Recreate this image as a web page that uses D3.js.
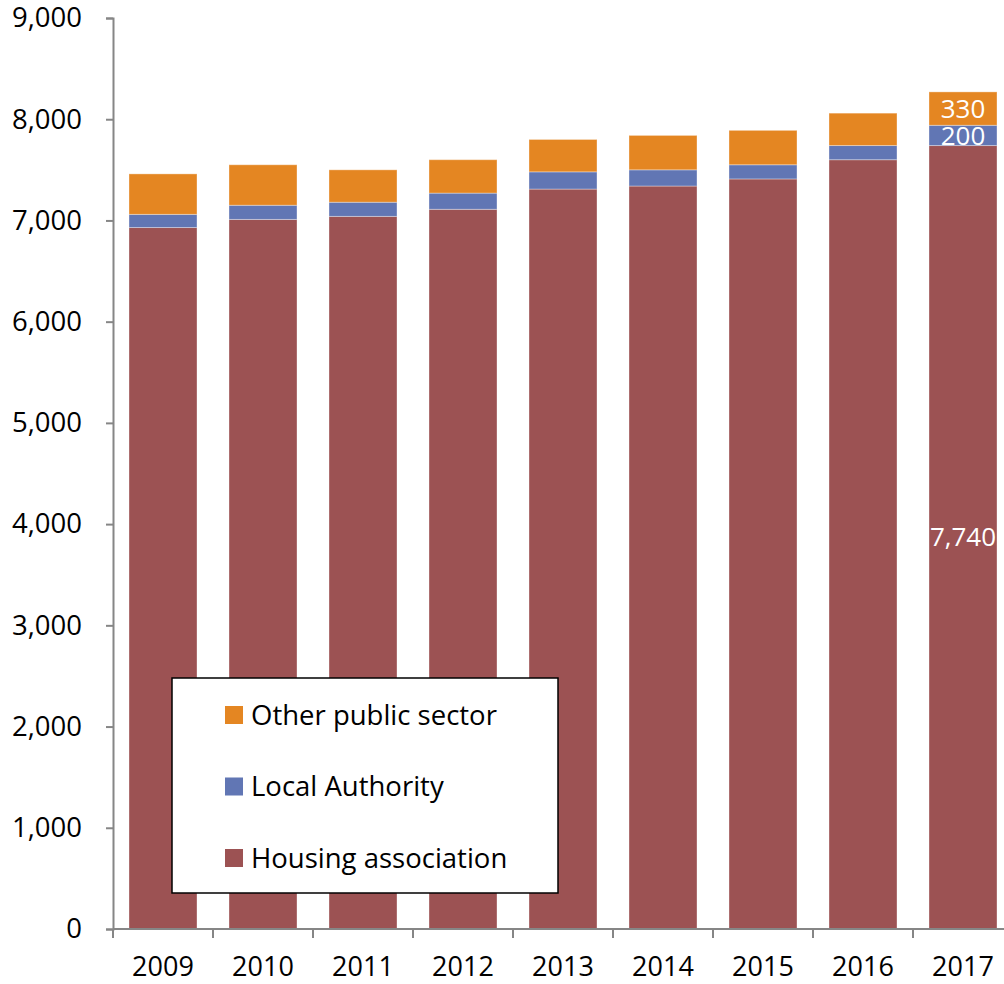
<!DOCTYPE html>
<html>
<head>
<meta charset="utf-8">
<script src="https://cdn.jsdelivr.net/npm/d3@7/dist/d3.min.js"></script>
<style>
  html, body { margin: 0; padding: 0; background: #fff; }
  svg { display: block; font-family: "Open Sans", "Lato", sans-serif; }
</style>
</head>
<body>
<svg id="chart" width="1004" height="984"></svg>
<script>
// Social housing stock by provider, 2009–2017
const years = ["2009", "2010", "2011", "2012", "2013", "2014", "2015", "2016", "2017"];
const housingAssociation = [6930, 7010, 7040, 7110, 7310, 7340, 7410, 7600, 7740];
const localAuthority     = [130, 140, 140, 160, 170, 160, 140, 140, 200];
const otherPublicSector  = [400, 400, 320, 330, 320, 340, 340, 320, 330];
const seriesNames = ["Housing association", "Local Authority", "Other public sector"];
const yTicks = [0, 1000, 2000, 3000, 4000, 5000, 6000, 7000, 8000, 9000];

const colors = {
  "Housing association": "#9c5253",
  "Local Authority": "#6176b4",
  "Other public sector": "#e48622"
};

const rows = years.map((y, i) => ({
  year: y,
  "Housing association": housingAssociation[i],
  "Local Authority": localAuthority[i],
  "Other public sector": otherPublicSector[i]
}));

const svg = d3.select("#chart");
const axisX = 113, baseY = 929, topY = 18;

const x = d3.scaleBand()
  .domain(years)
  .range([axisX, axisX + 900])
  .paddingInner(0.32)
  .paddingOuter(0.16);

const y = d3.scaleLinear().domain([0, 9000]).range([baseY, topY]);

const stacked = d3.stack().keys(seriesNames)(rows);

// stacked bars
svg.append("g").selectAll("g")
  .data(stacked)
  .join("g")
  .attr("fill", d => colors[d.key])
  .selectAll("rect")
  .data(d => d)
  .join("rect")
  .attr("x", d => x(d.data.year))
  .attr("width", x.bandwidth())
  .attr("y", d => y(d[1]))
  .attr("height", d => y(d[0]) - y(d[1]))
  .attr("stroke", "rgba(255,255,255,0.35)")
  .attr("stroke-width", 1);

// y axis
const yAxis = svg.append("g")
  .attr("transform", `translate(${axisX},0)`)
  .call(d3.axisLeft(y).tickValues(yTicks).tickSize(7).tickPadding(24)
    .tickFormat(d3.format(",")));
yAxis.select(".domain").attr("stroke", "#868686").attr("stroke-width", 2);
yAxis.selectAll(".tick line").attr("stroke", "#868686").attr("stroke-width", 2);
yAxis.selectAll(".tick text")
  .attr("font-size", 27.5).attr("fill", "#000")
  .attr("font-family", "Open Sans, sans-serif");

// x axis with boundary ticks between categories
const xAxisG = svg.append("g").attr("transform", `translate(0,${baseY})`);
xAxisG.append("line")
  .attr("x1", axisX).attr("x2", axisX + 900)
  .attr("stroke", "#868686").attr("stroke-width", 2);
const boundaries = years.map(d => x(d) - x.step() * x.paddingOuter());
xAxisG.selectAll("line.tk")
  .data(boundaries)
  .join("line")
  .attr("class", "tk")
  .attr("x1", d => d).attr("x2", d => d)
  .attr("y1", 0).attr("y2", 9)
  .attr("stroke", "#868686").attr("stroke-width", 2);
xAxisG.selectAll("text")
  .data(years)
  .join("text")
  .attr("x", d => x(d) + x.bandwidth() / 2)
  .attr("y", 47)
  .attr("text-anchor", "middle")
  .attr("font-size", 27)
  .attr("fill", "#000")
  .text(d => d);

// value labels on the latest year
const last = rows[rows.length - 1];
const lastIdx = rows.length - 1;
const labelData = stacked.map(s => ({ key: s.key, seg: s[lastIdx] }));
svg.append("g").selectAll("text")
  .data(labelData)
  .join("text")
  .attr("x", x(last.year) + x.bandwidth() / 2)
  .attr("y", d => (y(d.seg[0]) + y(d.seg[1])) / 2)
  .attr("dy", "0.35em")
  .attr("text-anchor", "middle")
  .attr("font-size", 26)
  .attr("fill", "#fff")
  .text(d => d3.format(",")(d.seg[1] - d.seg[0]));

// legend
const legend = svg.append("g").attr("transform", "translate(172,678)");
legend.append("rect")
  .attr("width", 386).attr("height", 215)
  .attr("fill", "#fff").attr("stroke", "#000").attr("stroke-width", 1.5);
const legendItems = ["Other public sector", "Local Authority", "Housing association"];
const li = legend.selectAll("g.item")
  .data(legendItems)
  .join("g")
  .attr("class", "item")
  .attr("transform", (d, i) => `translate(53,${37 + i * 71.5})`);
li.append("rect")
  .attr("x", 0).attr("y", -9)
  .attr("width", 18).attr("height", 18)
  .attr("fill", d => colors[d]);
li.append("text")
  .attr("x", 26).attr("y", 0).attr("dy", "0.35em")
  .attr("font-size", 27.5).attr("fill", "#000")
  .text(d => d);
</script>
</body>
</html>
